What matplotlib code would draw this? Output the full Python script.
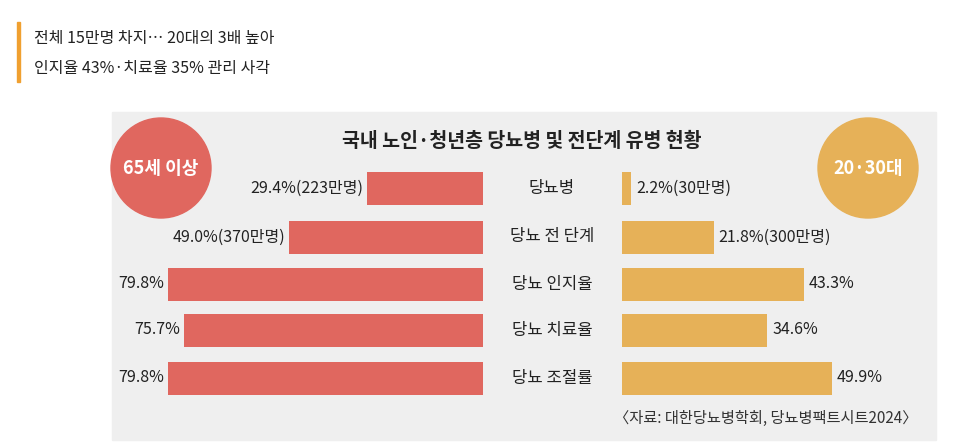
import matplotlib
matplotlib.use("Agg")
import matplotlib.pyplot as plt
from matplotlib import font_manager as fm
from matplotlib.patches import Rectangle, Circle

names = {f.name for f in fm.fontManager.ttflist}
cjk = [n for n in ["Noto Sans CJK KR", "Noto Sans CJK JP", "Noto Sans CJK SC", "Noto Sans CJK TC"] if n in names]
if not cjk:
    for f in fm.findSystemFonts():
        if "CJK" in f or "Noto" in f and "KR" in f:
            try:
                fm.fontManager.addfont(f)
            except Exception:
                pass
    names = {f.name for f in fm.fontManager.ttflist}
    cjk = [n for n in names if "CJK" in n]
plt.rcParams["font.family"] = cjk + ["DejaVu Sans"]

categories = ["당뇨병", "당뇨 전 단계", "당뇨 인지율", "당뇨 치료율", "당뇨 조절률"]
senior_values = [29.4, 49.0, 79.8, 75.7, 79.8]
senior_labels = ["29.4%(223만명)", "49.0%(370만명)", "79.8%", "75.7%", "79.8%"]
young_values = [2.2, 21.8, 43.3, 34.6, 49.9]
young_labels = ["2.2%(30만명)", "21.8%(300만명)", "43.3%", "34.6%", "49.9%"]

RED = "#E0675F"
YEL = "#E6B158"

fig = plt.figure(figsize=(9.66, 4.45), dpi=100)
ax = fig.add_axes([0, 0, 1, 1])
ax.set_xlim(0, 966)
ax.set_ylim(445, 0)
ax.axis("off")

ax.add_patch(Rectangle((17, 22), 2.5, 60, color="#F0A030"))
ax.text(34, 38, "전체 15만명 차지… 20대의 3배 높아", fontsize=11.5, va="center", color="#222")
ax.text(34, 68, "인지율 43%·치료율 35% 관리 사각", fontsize=11.5, va="center", color="#222")

ax.add_patch(Rectangle((112, 112), 824, 328, color="#EFEFEF", zorder=0))
ax.text(522, 141, "국내 노인·청년층 당뇨병 및 전단계 유병 현황", fontsize=14, fontweight="bold",
        ha="center", va="center", color="#222")
ax.add_patch(Circle((161, 168), 50, color=RED))
ax.text(161, 168, "65세 이상", fontsize=13, fontweight="bold", color="white", ha="center", va="center")
ax.add_patch(Circle((868, 168), 50, color=YEL))
ax.text(868, 168, "20·30대", fontsize=13, fontweight="bold", color="white", ha="center", va="center")

ys = [188, 237, 284, 330, 378]
LX, LS = 483, 3.95
RX, RS = 622, 4.2
h = 33
ax.barh(ys, [v * LS for v in senior_values], left=[LX - v * LS for v in senior_values], height=h, color=RED)
ax.barh(ys, [v * RS for v in young_values], left=RX, height=h, color=YEL)
for y, v, lab in zip(ys, senior_values, senior_labels):
    ax.text(LX - v * LS - 4, y, lab, fontsize=11.5, ha="right", va="center", color="#222")
for y, v, lab in zip(ys, young_values, young_labels):
    ax.text(RX + v * RS + 5, y, lab, fontsize=11.5, ha="left", va="center", color="#222")
for y, c in zip(ys, categories):
    ax.text(552, y, c, fontsize=12, ha="center", va="center", color="#222")

ax.text(918, 418, "〈자료: 대한당뇨병학회, 당뇨병팩트시트2024〉", fontsize=11, ha="right", va="center", color="#333")

fig.savefig("out.png", dpi=100)
